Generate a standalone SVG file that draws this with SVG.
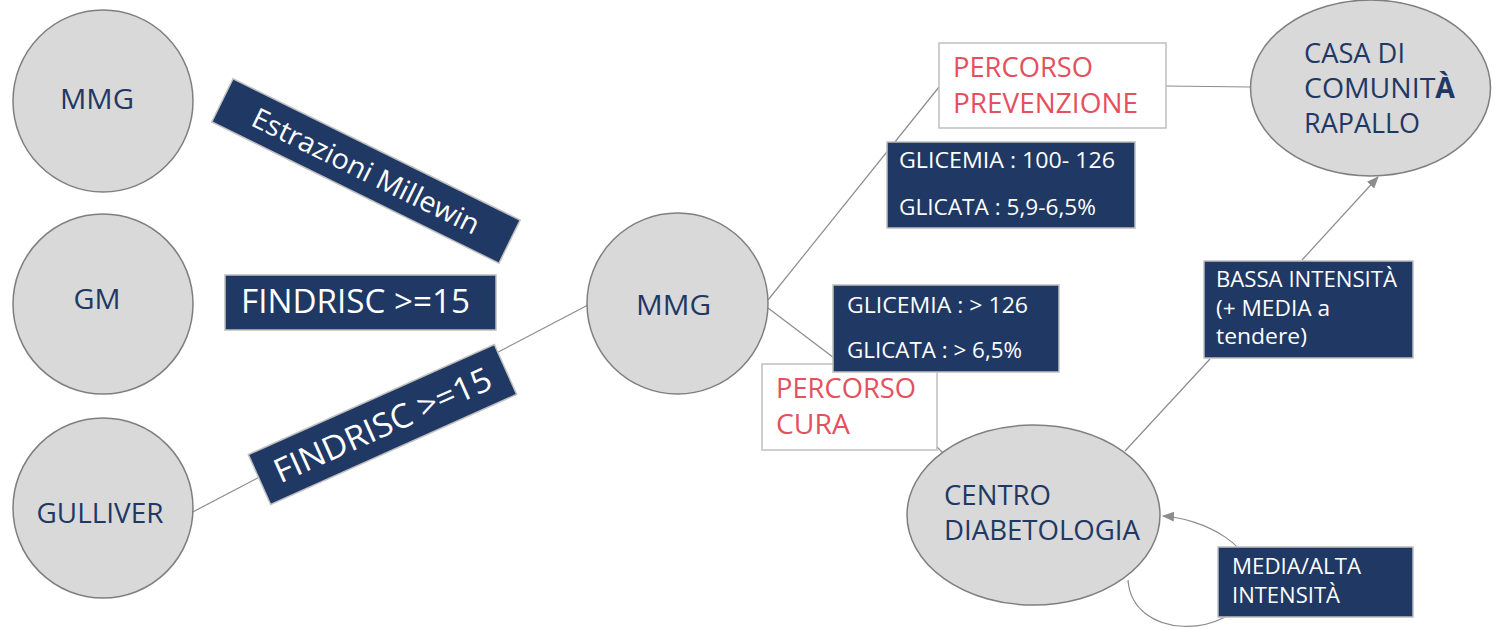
<svg xmlns="http://www.w3.org/2000/svg" width="1494" height="629" viewBox="0 0 1494 629">
<style>
.c{fill:#d9d9d9;stroke:#7f7f7f;stroke-width:1.5}
.bx{fill:#203864;stroke:#bfbfbf;stroke-width:1.5}
.wb{fill:#ffffff;stroke:#bfbfbf;stroke-width:1.5}
.ln{fill:none;stroke:#8c8c8c;stroke-width:1.2}
text{font-family:"Open Sans","Liberation Sans",sans-serif}
.t{fill:#1f3864;font-size:28px}
.w{fill:#ffffff}
.r{fill:#e5505e;font-size:28px}
</style>
<defs>
<marker id="ah" markerWidth="12" markerHeight="10" refX="11" refY="5" orient="auto" markerUnits="userSpaceOnUse">
<path d="M0,0 L12,5 L0,10 Z" fill="#8c8c8c"/>
</marker>
</defs>
<g id="connectors">
<line class="ln" x1="187" y1="515" x2="588" y2="305"/>
<line class="ln" x1="768" y1="300" x2="939" y2="87"/>
<line class="ln" x1="768" y1="308" x2="850" y2="370"/>
<line class="ln" x1="930" y1="440" x2="945" y2="455"/>
<line class="ln" x1="1166" y1="86" x2="1251" y2="87"/>
<line class="ln" x1="1125" y1="451" x2="1210" y2="359"/>
<line class="ln" x1="1302" y1="260" x2="1378" y2="177" marker-end="url(#ah)"/>
<path class="ln" d="M1128,580 C1132,640 1230,640 1250,590 C1262,545 1200,518 1163,516" marker-end="url(#ah)"/>
</g>
<g id="n-mmg-left">
<ellipse class="c" cx="103" cy="101" rx="90" ry="91"/>
<text class="t" x="97" y="109" text-anchor="middle" textLength="74" lengthAdjust="spacingAndGlyphs">MMG</text>
</g>
<g id="n-gm">
<ellipse class="c" cx="103" cy="304" rx="90" ry="90"/>
<text class="t" x="97" y="309" text-anchor="middle" textLength="47" lengthAdjust="spacingAndGlyphs">GM</text>
</g>
<g id="n-gulliver">
<ellipse class="c" cx="103" cy="508" rx="90" ry="90"/>
<text class="t" x="100" y="523" text-anchor="middle" textLength="127" lengthAdjust="spacingAndGlyphs">GULLIVER</text>
</g>
<g id="l-estrazioni" transform="translate(366,171) rotate(26.2)">
<rect class="bx" x="-160" y="-24" width="320" height="48"/>
<text class="w" x="0" y="10" font-size="28" text-anchor="middle" textLength="250" lengthAdjust="spacingAndGlyphs">Estrazioni Millewin</text>
</g>
<g id="l-findrisc-1">
<rect class="bx" x="225" y="275" width="271" height="55"/>
<text class="w" x="241" y="313" font-size="33" textLength="229" lengthAdjust="spacingAndGlyphs">FINDRISC &gt;=15</text>
</g>
<g id="l-findrisc-2" transform="translate(382.5,424.5) rotate(-24.1)">
<rect class="bx" x="-134.75" y="-27.3" width="269.5" height="54.6"/>
<text class="w" x="0" y="12" font-size="33" text-anchor="middle" textLength="235" lengthAdjust="spacingAndGlyphs">FINDRISC &gt;=15</text>
</g>
<g id="n-mmg-center">
<ellipse class="c" cx="677.5" cy="303.5" rx="90.5" ry="90.5"/>
<text class="t" x="673.5" y="315" text-anchor="middle" textLength="75" lengthAdjust="spacingAndGlyphs">MMG</text>
</g>
<g id="n-prevenzione">
<rect class="wb" x="939" y="43" width="227" height="85"/>
<text class="r" x="953" y="77" textLength="140" lengthAdjust="spacingAndGlyphs">PERCORSO</text>
<text class="r" x="953" y="113" textLength="185" lengthAdjust="spacingAndGlyphs">PREVENZIONE</text>
</g>
<g id="l-glicemia-1">
<rect class="bx" x="887" y="142" width="248" height="86"/>
<text class="w" x="899" y="168" font-size="21" textLength="216" lengthAdjust="spacingAndGlyphs">GLICEMIA : 100- 126</text>
<text class="w" x="899" y="215" font-size="21" textLength="197" lengthAdjust="spacingAndGlyphs">GLICATA : 5,9-6,5%</text>
</g>
<g id="n-cura">
<rect class="wb" x="762" y="364" width="175" height="86"/>
<text class="r" x="776" y="398" textLength="140" lengthAdjust="spacingAndGlyphs">PERCORSO</text>
<text class="r" x="776" y="434" textLength="74" lengthAdjust="spacingAndGlyphs">CURA</text>
</g>
<g id="l-glicemia-2">
<rect class="bx" x="833" y="285" width="226" height="87"/>
<text class="w" x="847" y="313" font-size="21" textLength="181" lengthAdjust="spacingAndGlyphs">GLICEMIA : &gt; 126</text>
<text class="w" x="847" y="358" font-size="21" textLength="175" lengthAdjust="spacingAndGlyphs">GLICATA : &gt; 6,5%</text>
</g>
<g id="n-casa">
<ellipse class="c" cx="1370.5" cy="88" rx="120" ry="88"/>
<text class="t" x="1304" y="63" textLength="101" lengthAdjust="spacingAndGlyphs">CASA DI</text>
<text class="t" x="1304" y="98" textLength="151" lengthAdjust="spacingAndGlyphs">COMUNIT<tspan font-weight="bold">À</tspan></text>
<text class="t" x="1304" y="133" textLength="116" lengthAdjust="spacingAndGlyphs">RAPALLO</text>
</g>
<g id="l-bassa">
<rect class="bx" x="1204" y="261" width="209" height="97"/>
<text class="w" x="1216" y="287" font-size="22" textLength="181" lengthAdjust="spacingAndGlyphs">BASSA INTENSITÀ</text>
<text class="w" x="1216" y="316" font-size="22" textLength="114" lengthAdjust="spacingAndGlyphs">(+ MEDIA a</text>
<text class="w" x="1216" y="344" font-size="22" textLength="91" lengthAdjust="spacingAndGlyphs">tendere)</text>
</g>
<g id="n-centro">
<ellipse class="c" cx="1033.5" cy="515" rx="126.5" ry="90"/>
<text class="t" x="944" y="505" textLength="107" lengthAdjust="spacingAndGlyphs">CENTRO</text>
<text class="t" x="944" y="540" textLength="196" lengthAdjust="spacingAndGlyphs">DIABETOLOGIA</text>
</g>
<g id="l-media">
<rect class="bx" x="1218" y="547" width="195" height="70"/>
<text class="w" x="1232" y="574" font-size="22" textLength="129" lengthAdjust="spacingAndGlyphs">MEDIA/ALTA</text>
<text class="w" x="1232" y="603" font-size="22" textLength="108" lengthAdjust="spacingAndGlyphs">INTENSITÀ</text>
</g>
</svg>
